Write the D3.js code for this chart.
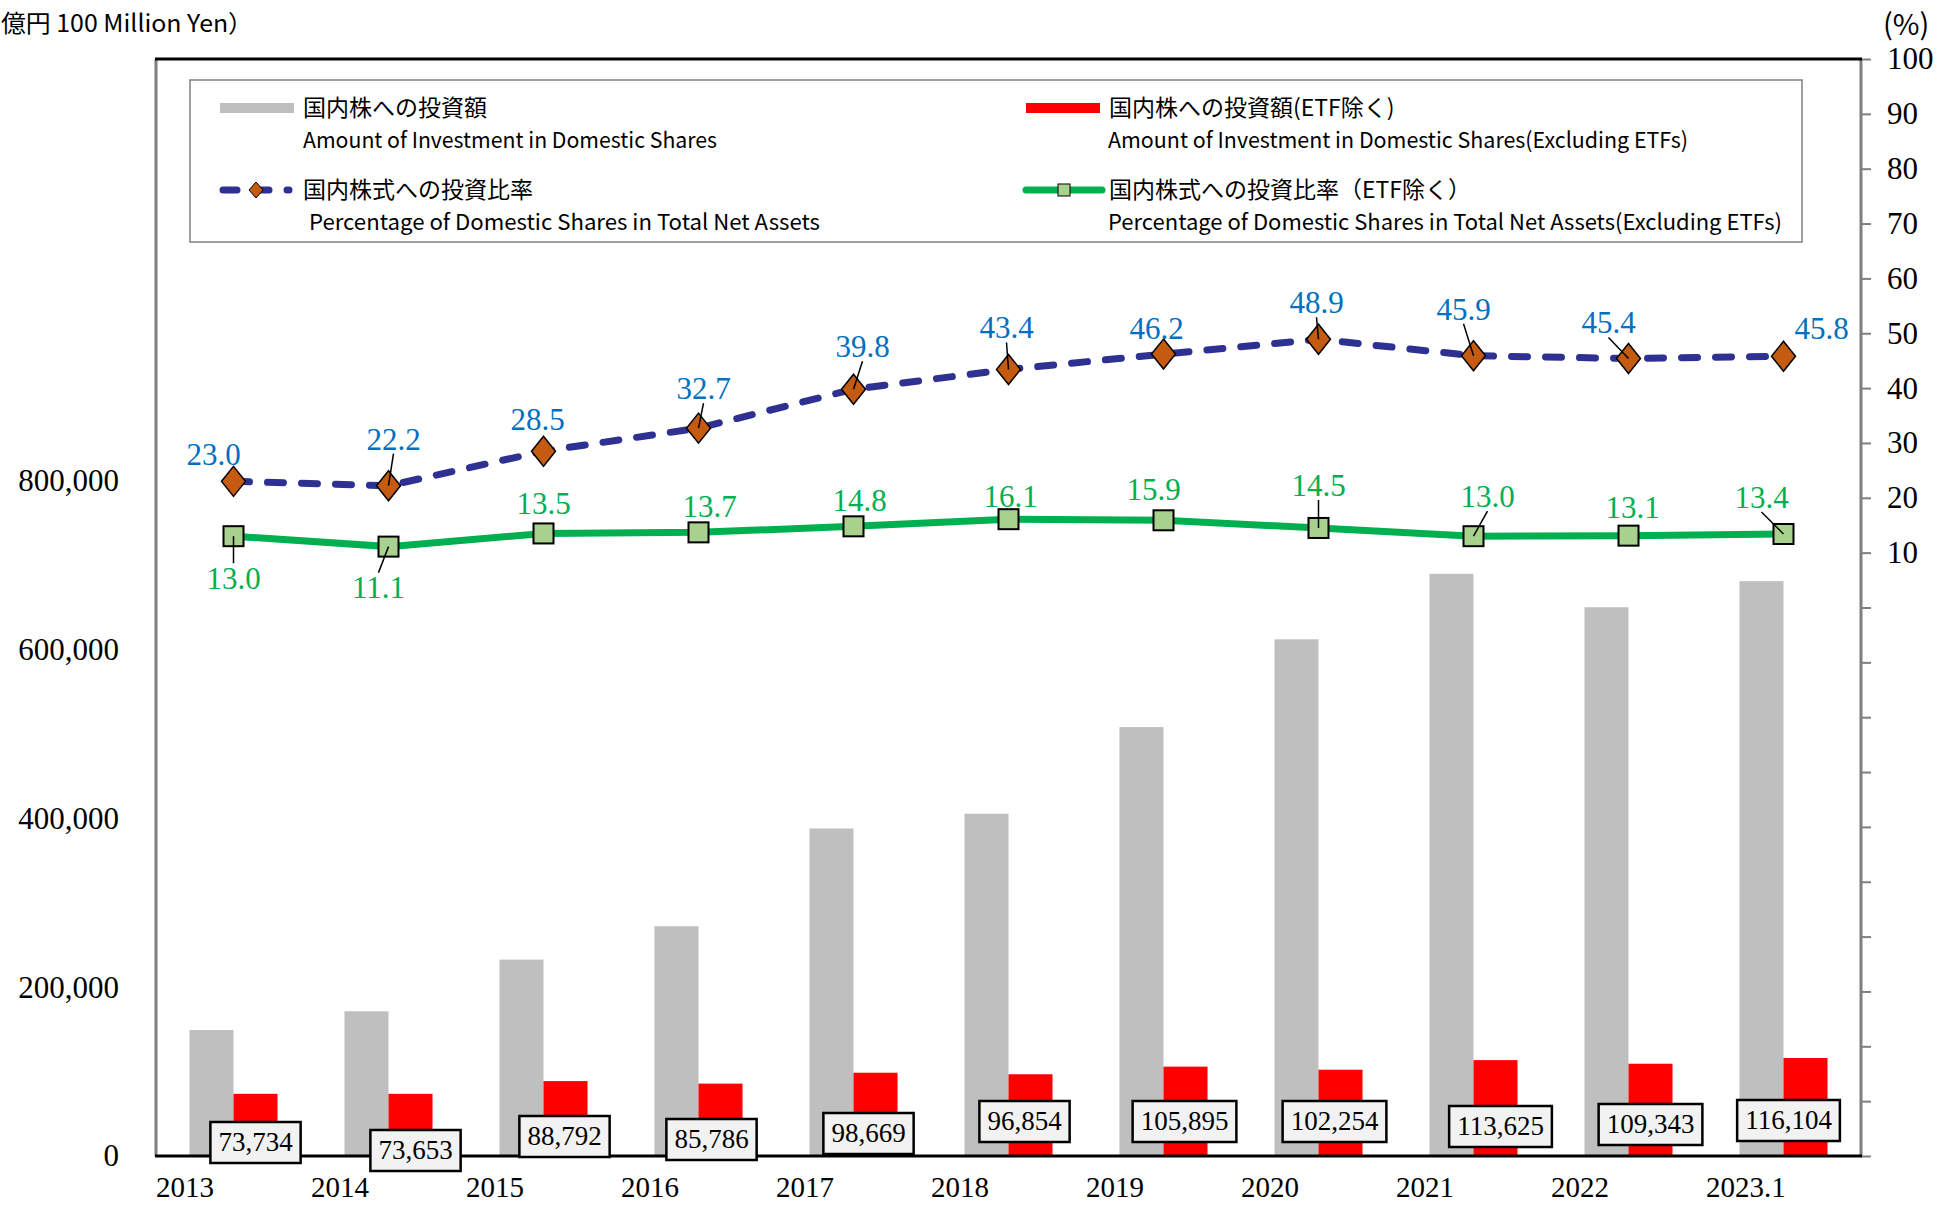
<!DOCTYPE html>
<html>
<head>
<meta charset="utf-8">
<script src="https://cdn.jsdelivr.net/npm/d3@7"></script>
<style>
  body { margin: 0; background: #fff; }
  .jp { font-family: "Noto Sans CJK JP", "Noto Sans", sans-serif; }
  .num { font-family: "Liberation Serif", "Times New Roman", serif; }
</style>
</head>
<body>
<div id="chart"></div>
<script>
/* DATA */
const years = ["2013", "2014", "2015", "2016", "2017", "2018", "2019", "2020", "2021", "2022", "2023.1"];
// 国内株への投資額 (100 million yen)
const domesticAmount = [149300, 171500, 232700, 272300, 388100, 405600, 508300, 612300, 689900, 650300, 681200];
// 国内株への投資額(ETF除く)
const domesticAmountExEtf = [73734, 73653, 88792, 85786, 98669, 96854, 105895, 102254, 113625, 109343, 116104];
// 国内株式への投資比率 (%)
const shareRatio = [23.0, 22.2, 28.5, 32.7, 39.8, 43.4, 46.2, 48.9, 45.9, 45.4, 45.8];
// 国内株式への投資比率 (ETF除く) (%)
const shareRatioExEtf = [13.0, 11.1, 13.5, 13.7, 14.8, 16.1, 15.9, 14.5, 13.0, 13.1, 13.4];

const amountTicks = [0, 200000, 400000, 600000, 800000];
const pctTicks = d3.range(-100, 101, 10);

/* LABEL NUDGES (dx, dy from marker, leader line yes/no) */
const ratioNudge = [[-20, -27, 0], [5, -47, 1], [-6, -32, 0], [5, -40, 1], [9, -43, 1], [-2, -42, 1],
  [-7, -26, 0], [-2, -37, 1], [-10, -47, 1], [-20, -36, 1], [38, -28, 0]];
const ratioExNudge = [[0, 42, 1], [-10, 41, 1], [0, -30, 0], [11, -26, 0], [6, -26, 0], [2, -23, 0],
  [-10, -31, 0], [0, -43, 1], [14, -40, 1], [4, -28, 0], [-22, -37, 1]];
// value boxes, offset from the centre of the red bar base
const boxNudge = [[0, -14], [5, -6], [-1, -20], [-9, -17], [-7, -23], [-6, -35],
  [-1, -35], [-6, -35], [5, -30], [0, -32], [-17, -36]];

/* CONSTANTS */
const width = 1939, height = 1205,
  margin = { top: 59, bottom: 49, left: 156, right: 78 };
const colors = { gray: "#bfbfbf", red: "#ff0000", navy: "#2e3192", orange: "#c55a11",
  green: "#00b050", lightGreen: "#a9d18e", blue: "#0070c0", frame: "#7f7f7f" };

const svg = d3.select("#chart").append("svg")
  .attr("width", width)
  .attr("height", height);

/* SCALES */
const xScale = d3.scaleBand()
  .domain(years)
  .range([margin.left, width - margin.right]);
const bw = xScale.bandwidth() * 0.284;
const mid = d => xScale(d) + xScale.bandwidth() / 2;

const yAmount = d3.scaleLinear()
  .domain([0, 1300000])
  .range([height - margin.bottom, margin.top]);
const yPct = d3.scaleLinear()
  .domain([-100, 100])
  .range([height - margin.bottom, margin.top]);

/* AXES */
svg.append("g")
  .attr("transform", `translate(${margin.left},0)`)
  .call(d3.axisLeft(yAmount).tickValues(amountTicks).tickSize(0).tickPadding(37).tickFormat(d3.format(",")))
  .attr("font-family", "Liberation Serif, serif")
  .attr("font-size", 31)
  .call(g => g.select(".domain").remove())
  .selectAll("text").attr("fill", "#000");

svg.append("g")
  .attr("transform", `translate(${width - margin.right},0)`)
  .call(d3.axisRight(yPct).tickValues(pctTicks).tickSize(10).tickPadding(16).tickFormat(d => d > 0 ? d : ""))
  .attr("font-family", "Liberation Serif, serif")
  .attr("font-size", 31)
  .call(g => g.select(".domain").remove())
  .call(g => g.selectAll("line").attr("stroke", colors.frame).attr("stroke-width", 2))
  .selectAll("text").attr("fill", "#000");

svg.append("g")
  .attr("transform", `translate(0,${height - margin.bottom})`)
  .call(d3.axisBottom(xScale).tickSize(0).tickPadding(20))
  .attr("font-family", "Liberation Serif, serif")
  .attr("font-size", 29)
  .call(g => g.select(".domain").remove())
  .selectAll("text")
  .attr("fill", "#000")
  .attr("text-anchor", "start")
  .attr("x", -xScale.bandwidth() / 2);

// frame
const L = margin.left, R = width - margin.right, T = margin.top, B = height - margin.bottom;
svg.append("line").attr("x1", L).attr("x2", L).attr("y1", T).attr("y2", B)
  .attr("stroke", colors.frame).attr("stroke-width", 3);
svg.append("line").attr("x1", R).attr("x2", R).attr("y1", T).attr("y2", B)
  .attr("stroke", colors.frame).attr("stroke-width", 3);
svg.append("line").attr("x1", L - 1).attr("x2", R + 1).attr("y1", T).attr("y2", T)
  .attr("stroke", "#000").attr("stroke-width", 3);

// unit titles
svg.append("text").attr("class", "jp")
  .attr("x", 1).attr("y", 32)
  .attr("font-size", 24)
  .attr("textLength", 252)
  .attr("lengthAdjust", "spacingAndGlyphs")
  .text("億円 100 Million Yen）");
svg.append("text").attr("class", "jp")
  .attr("x", 1883).attr("y", 35)
  .attr("font-size", 29)
  .text("(%)");

/* BARS */
svg.append("g").selectAll("rect")
  .data(years)
  .join("rect")
  .attr("x", d => mid(d) - bw)
  .attr("width", bw)
  .attr("y", (d, i) => yAmount(domesticAmount[i]))
  .attr("height", (d, i) => yAmount(0) - yAmount(domesticAmount[i]))
  .attr("fill", colors.gray);

svg.append("g").selectAll("rect")
  .data(years)
  .join("rect")
  .attr("x", d => mid(d))
  .attr("width", bw)
  .attr("y", (d, i) => yAmount(domesticAmountExEtf[i]))
  .attr("height", (d, i) => yAmount(0) - yAmount(domesticAmountExEtf[i]))
  .attr("fill", colors.red);

// bottom axis line on top of bars
svg.append("line").attr("x1", L - 1).attr("x2", R + 1).attr("y1", B).attr("y2", B)
  .attr("stroke", "#000").attr("stroke-width", 3);

/* LINES */
const line = d3.line().x(d => mid(d.year)).y(d => yPct(d.v));
const ratioPts = years.map((y, i) => ({ year: y, v: shareRatio[i] }));
const ratioExPts = years.map((y, i) => ({ year: y, v: shareRatioExEtf[i] }));

svg.append("path")
  .datum(ratioExPts)
  .attr("d", line)
  .attr("fill", "none")
  .attr("stroke", colors.green)
  .attr("stroke-width", 7);

svg.append("path")
  .datum(ratioPts)
  .attr("d", line)
  .attr("fill", "none")
  .attr("stroke", colors.navy)
  .attr("stroke-width", 7)
  .attr("stroke-linecap", "round")
  .attr("stroke-dasharray", "16 18");

const diamond = "M0,-15L12,0L0,15L-12,0Z";

function drawSquares(g, pts) {
  g.selectAll("rect.mk")
    .data(pts)
    .join("rect")
    .attr("class", "mk")
    .attr("x", d => mid(d.year) - 10)
    .attr("y", d => yPct(d.v) - 10)
    .attr("width", 20)
    .attr("height", 20)
    .attr("fill", colors.lightGreen)
    .attr("stroke", "#000")
    .attr("stroke-width", 2);
}
function drawDiamonds(g, pts) {
  g.selectAll("path.mk")
    .data(pts)
    .join("path")
    .attr("class", "mk")
    .attr("d", diamond)
    .attr("transform", d => `translate(${mid(d.year)},${yPct(d.v)})`)
    .attr("fill", colors.orange)
    .attr("stroke", "#000")
    .attr("stroke-width", 1.5);
}

// markers first, then leader lines over them, then the labels
function labelSeries(pts, nudge, color, marker) {
  const g = svg.append("g");
  marker(g, pts);
  g.selectAll("line")
    .data(pts.filter((d, i) => nudge[i][2]))
    .join("line")
    .each(function (d) {
      const i = years.indexOf(d.year);
      const mx = mid(d.year), my = yPct(d.v);
      const lx = mx + nudge[i][0], ly = my + nudge[i][1] + (nudge[i][1] < 0 ? 15 : -15);
      d3.select(this).attr("x1", lx).attr("y1", ly).attr("x2", mx).attr("y2", my);
    })
    .attr("stroke", "#000")
    .attr("stroke-width", 1.5);
  g.selectAll("text")
    .data(pts)
    .join("text")
    .attr("class", "num")
    .attr("x", (d, i) => mid(d.year) + nudge[i][0])
    .attr("y", (d, i) => yPct(d.v) + nudge[i][1])
    .attr("dy", "0.35em")
    .attr("text-anchor", "middle")
    .attr("font-size", 31)
    .attr("fill", color)
    .text(d => d.v.toFixed(1));
}

labelSeries(ratioExPts, ratioExNudge, colors.green, drawSquares);
labelSeries(ratioPts, ratioNudge, colors.blue, drawDiamonds);

/* VALUE BOXES */
const boxes = svg.append("g").selectAll("g")
  .data(years)
  .join("g")
  .attr("transform", (d, i) => `translate(${mid(d) + bw / 2 + boxNudge[i][0]},${yAmount(0) + boxNudge[i][1]})`);

boxes.append("rect")
  .attr("fill", "#f2f2f2")
  .attr("stroke", "#000")
  .attr("stroke-width", 2.5);

boxes.append("text")
  .attr("class", "num")
  .attr("text-anchor", "middle")
  .attr("dy", "0.35em")
  .attr("font-size", 27)
  .text((d, i) => d3.format(",")(domesticAmountExEtf[i]));

boxes.each(function () {
  const t = d3.select(this).select("text").node().getComputedTextLength();
  d3.select(this).select("rect")
    .attr("x", -t / 2 - 8).attr("width", t + 16)
    .attr("y", -20).attr("height", 41);
});

/* LEGEND */
const legend = svg.append("g");
legend.append("rect")
  .attr("x", 190).attr("y", 80)
  .attr("width", 1612).attr("height", 162)
  .attr("fill", "#fff")
  .attr("stroke", colors.frame)
  .attr("stroke-width", 1.5);

const legendItems = [
  { x: 220, y: 108, jp: "国内株への投資額", en: "Amount of Investment in Domestic Shares", enX: 83, enW: 414, kind: "gray" },
  { x: 1026, y: 108, jp: "国内株への投資額(ETF除く)", en: "Amount of Investment in Domestic Shares(Excluding ETFs)", enX: 82, enW: 580, kind: "red" },
  { x: 220, y: 190, jp: "国内株式への投資比率", en: "Percentage of Domestic Shares in Total Net Assets", enX: 89, enW: 511, kind: "navy" },
  { x: 1026, y: 190, jp: "国内株式への投資比率（ETF除く）", en: "Percentage of Domestic Shares in Total Net Assets(Excluding ETFs)", enX: 82, enW: 674, kind: "green" }
];

legendItems.forEach(it => {
  const g = legend.append("g").attr("transform", `translate(${it.x},${it.y})`);
  if (it.kind === "gray" || it.kind === "red") {
    g.append("rect").attr("x", 0).attr("y", -5).attr("width", 74).attr("height", 10)
      .attr("fill", it.kind === "gray" ? colors.gray : colors.red);
  } else if (it.kind === "navy") {
    g.append("line").attr("x1", 3).attr("x2", 69).attr("y1", 0).attr("y2", 0)
      .attr("stroke", colors.navy).attr("stroke-width", 7)
      .attr("stroke-linecap", "round").attr("stroke-dasharray", "14 18");
    g.append("path").attr("d", "M0,-8L7,0L0,8L-7,0Z").attr("transform", "translate(36,0)")
      .attr("fill", colors.orange).attr("stroke", "#000").attr("stroke-width", 1);
  } else {
    g.append("line").attr("x1", 0).attr("x2", 76).attr("y1", 0).attr("y2", 0)
      .attr("stroke", colors.green).attr("stroke-width", 7).attr("stroke-linecap", "round");
    g.append("rect").attr("x", 32).attr("y", -6).attr("width", 12).attr("height", 12)
      .attr("fill", colors.lightGreen).attr("stroke", "#000").attr("stroke-width", 1);
  }
  g.append("text").attr("class", "jp")
    .attr("x", 83).attr("y", 0).attr("dy", "0.35em")
    .attr("font-size", 23)
    .text(it.jp);
  g.append("text").attr("class", "jp")
    .attr("x", it.enX).attr("y", 32).attr("dy", "0.35em")
    .attr("font-size", 22)
    .attr("textLength", it.enW)
    .attr("lengthAdjust", "spacingAndGlyphs")
    .text(it.en);
});
</script>
</body>
</html>
